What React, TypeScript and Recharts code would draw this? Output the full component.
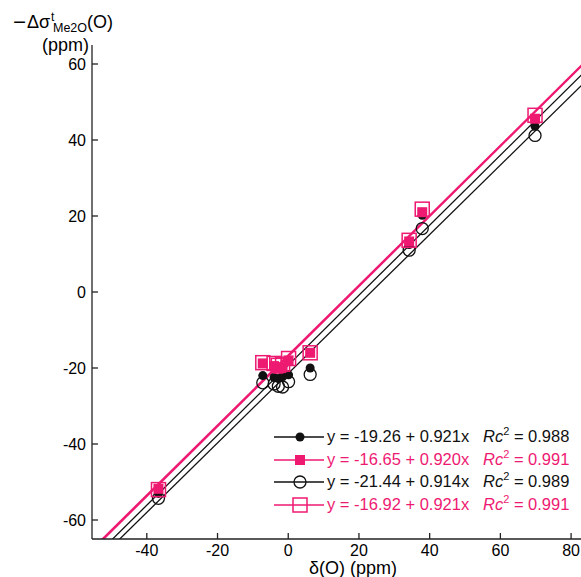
import React from 'react';
import {
  ComposedChart,
  Line,
  Scatter,
  XAxis,
  YAxis,
} from 'recharts';

const PINK = '#ee1a72';
const BLACK = '#111111';

// δ(O) values shared by every series
const deltaO = [-36.7, -7.2, -4.0, -2.8, -1.6, 0.1, 6.2, 34.2, 37.9, 69.8];

const filledBlack = [-53.0, -22.0, -22.5, -22.8, -22.3, -21.8, -20.0, 12.5, 20.2, 43.6];
const filledPink = [-51.8, -18.8, -19.5, -20.2, -19.8, -18.0, -16.0, 13.3, 21.0, 45.6];
const openBlack = [-54.3, -23.9, -24.2, -24.8, -25.0, -23.6, -21.7, 11.0, 16.7, 41.2];
const openPink = [-52.0, -18.6, -18.8, -19.3, -19.0, -17.5, -16.0, 13.6, 21.8, 46.5];

// fit lines from the legend
const intercepts = [-19.26, -16.65, -21.44, -16.92];
const slopes = [0.921, 0.92, 0.914, 0.921];
const rc2 = ['0.988', '0.991', '0.989', '0.991'];
const seriesColors = [BLACK, PINK, BLACK, PINK];
const seriesMarkers = ['dot', 'square', 'circle', 'box'];

const xTicks = [-40, -20, 0, 20, 40, 60, 80];
const yTicks = [-60, -40, -20, 0, 20, 40, 60];
const X_DOMAIN: [number, number] = [-55.5, 82.8];
const Y_DOMAIN: [number, number] = [-65, 65];

const toPoints = (ys: number[]) => deltaO.map((x, i) => ({ x, y: ys[i] }));

// fit lines drawn across the whole range, clipped to the plot
const fitLine = (i: number) =>
  [-70, 100].map((x) => ({ x, y: intercepts[i] + slopes[i] * x }));

const Marker = ({ kind, cx, cy }: { kind: string; cx: number; cy: number }) => {
  if (kind === 'dot') return <circle cx={cx} cy={cy} r={4.5} fill={BLACK} />;
  if (kind === 'circle')
    return <circle cx={cx} cy={cy} r={6} fill="none" stroke={BLACK} strokeWidth={1.3} />;
  if (kind === 'square')
    return <rect x={cx - 5} y={cy - 5} width={10} height={10} fill={PINK} />;
  return (
    <rect x={cx - 7} y={cy - 7} width={14} height={14} fill="none" stroke={PINK} strokeWidth={1.5} />
  );
};

const shapeFor = (kind: string) => (props: any) =>
  <Marker kind={kind} cx={props.cx} cy={props.cy} />;

const tickStyle = { fontSize: 16, fill: '#000', fontFamily: 'Liberation Sans, Arial, sans-serif' };

function LegendBox() {
  return (
    <div
      style={{
        position: 'absolute',
        left: 272,
        top: 426,
        fontFamily: 'Liberation Sans, Arial, sans-serif',
        fontSize: 16.5,
      }}
    >
      {intercepts.map((a, i) => (
        <div
          key={i}
          style={{ position: 'relative', height: 22.6, width: 300, color: seriesColors[i] }}
        >
          <svg width={54} height={22} style={{ position: 'absolute', left: 0, top: 0 }}>
            <line x1={2} x2={52} y1={11} y2={11} stroke={seriesColors[i]} strokeWidth={1.4} />
            <Marker kind={seriesMarkers[i]} cx={28} cy={11} />
          </svg>
          <span style={{ position: 'absolute', left: 55, top: 1, whiteSpace: 'nowrap' }}>
            {`y = ${a.toFixed(2)} + ${slopes[i].toFixed(3)}x`}
          </span>
          <span style={{ position: 'absolute', left: 211, top: 1, whiteSpace: 'nowrap' }}>
            <i>Rc</i>
            <sup style={{ fontSize: 11, verticalAlign: 0, position: 'relative', top: -7 }}>2</sup>
            {` = ${rc2[i]}`}
          </span>
        </div>
      ))}
    </div>
  );
}

export default function App() {
  return (
    <div style={{ position: 'absolute', left: 0, top: 0, width: 581, height: 577, background: '#fff' }}>
      <ComposedChart
        width={581}
        height={577}
        margin={{ top: 45, right: 0, bottom: 0, left: 0 }}
      >
        <XAxis
          xAxisId={0}
          type="number"
          dataKey="x"
          domain={X_DOMAIN}
          ticks={xTicks}
          allowDataOverflow
          height={38}
          stroke="#222"
          strokeWidth={1.3}
          tickSize={-6}
          tickMargin={12}
          tick={tickStyle}
        />
        <XAxis
          xAxisId="top"
          orientation="top"
          type="number"
          dataKey="x"
          domain={X_DOMAIN}
          allowDataOverflow
          height={0}
          tick={false}
          tickLine={false}
          stroke="#222"
          strokeWidth={1.3}
        />
        <YAxis
          type="number"
          dataKey="y"
          domain={Y_DOMAIN}
          ticks={yTicks}
          allowDataOverflow
          width={92}
          stroke="#222"
          strokeWidth={1.3}
          tickSize={-6}
          tickMargin={12}
          tick={tickStyle}
        />
        {intercepts.map((_, i) => (
          <Line
            key={'fit' + i}
            data={fitLine(i)}
            dataKey="y"
            type="linear"
            stroke={seriesColors[i]}
            strokeWidth={seriesColors[i] === PINK ? 1.8 : 1.3}
            dot={false}
            activeDot={false}
            isAnimationActive={false}
          />
        ))}
        <Scatter data={toPoints(openBlack)} dataKey="y" shape={shapeFor('circle')} isAnimationActive={false} />
        <Scatter data={toPoints(filledBlack)} dataKey="y" shape={shapeFor('dot')} isAnimationActive={false} />
        <Scatter data={toPoints(openPink)} dataKey="y" shape={shapeFor('box')} isAnimationActive={false} />
        <Scatter data={toPoints(filledPink)} dataKey="y" shape={shapeFor('square')} isAnimationActive={false} />
      </ComposedChart>

      <svg
        width={581}
        height={577}
        style={{ position: 'absolute', left: 0, top: 0, pointerEvents: 'none' }}
        fontFamily="Liberation Sans, Arial, sans-serif"
      >
        <text x={13} y={28} fontSize={18} textLength={13} lengthAdjust="spacingAndGlyphs">−</text>
        <text x={27} y={28} fontSize={18}>Δσ</text>
        <text x={51} y={21} fontSize={12}>t</text>
        <text x={53} y={31.5} fontSize={12.5}>Me2O</text>
        <text x={87} y={28} fontSize={18}>(O)</text>
        <text x={89} y={51} fontSize={18} textAnchor="end">(ppm)</text>
        <text x={353} y={574} fontSize={18} textAnchor="middle">δ(O) (ppm)</text>
      </svg>
      <LegendBox />
    </div>
  );
}
